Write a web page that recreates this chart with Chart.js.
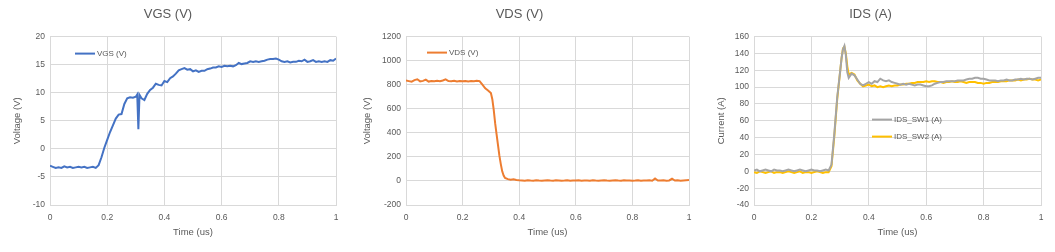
<!DOCTYPE html>
<html lang="en">
<head>
    <meta charset="UTF-8">
    <title>Switching waveforms</title>
    <style>
        body {
            margin: 0;
            background: #fff;
            width: 1055px;
            height: 252px;
            overflow: hidden;
            position: relative;
        }
        canvas {
            position: absolute;
            top: 0;
        }
    </style>
    <script src="https://cdn.jsdelivr.net/npm/chart.js"></script>
</head>
<body>
    <canvas id="vgsChart" width="345" height="252" style="left:0px"></canvas>
    <canvas id="vdsChart" width="347" height="252" style="left:350px"></canvas>
    <canvas id="idsChart" width="355" height="252" style="left:700px"></canvas>

    <script>
        // VGS trace (time in us, volts)
        const vgsTime = [0, 0.01, 0.02, 0.03, 0.04, 0.05, 0.06, 0.07, 0.08, 0.09,
            0.10, 0.11, 0.12, 0.13, 0.14, 0.15, 0.16, 0.17, 0.18, 0.19,
            0.20, 0.21, 0.22, 0.23, 0.24, 0.25, 0.26, 0.27, 0.28, 0.29,
            0.30, 0.305, 0.309, 0.313,
            0.32, 0.33, 0.34, 0.35, 0.36, 0.37, 0.38, 0.39,
            0.40, 0.41, 0.42, 0.43, 0.44, 0.45, 0.46, 0.47, 0.48, 0.49,
            0.50, 0.51, 0.52, 0.53, 0.54, 0.55, 0.56, 0.57, 0.58, 0.59,
            0.60, 0.61, 0.62, 0.63, 0.64, 0.65, 0.66, 0.67, 0.68, 0.69,
            0.70, 0.71, 0.72, 0.73, 0.74, 0.75, 0.76, 0.77, 0.78, 0.79,
            0.80, 0.81, 0.82, 0.83, 0.84, 0.85, 0.86, 0.87, 0.88, 0.89,
            0.90, 0.91, 0.92, 0.93, 0.94, 0.95, 0.96, 0.97, 0.98, 0.99, 1.00];
        const vgsValues = [-3.0, -3.2, -3.4, -3.3, -3.4, -3.1, -3.3, -3.2, -3.4, -3.3,
            -3.2, -3.3, -3.2, -3.4, -3.3, -3.2, -3.4, -2.9, -1.5, 0.2,
            1.6, 3.0, 4.2, 5.4, 6.1, 6.2, 8.0, 9.0, 9.2, 9.1,
            9.3, 9.7, 3.5, 9.6,
            9.0, 8.7, 9.8, 10.5, 10.9, 11.6, 11.4, 11.3,
            12.1, 11.9, 12.6, 12.9, 13.4, 14.0, 14.2, 14.4, 14.1, 14.2,
            13.8, 14.0, 13.7, 13.9, 13.9, 14.2, 14.3, 14.5, 14.5, 14.7,
            14.6, 14.8, 14.7, 14.8, 14.7, 14.9, 15.3, 15.1, 15.2, 15.3,
            15.6, 15.5, 15.6, 15.5, 15.6, 15.7, 15.9, 16.0, 16.0, 16.1,
            15.9, 15.6, 15.5, 15.6, 15.4, 15.5, 15.5, 15.7, 15.6, 15.9,
            15.5, 15.6, 15.8, 15.5, 15.6, 15.5, 15.6, 15.5, 15.8, 15.7, 16.1];

        // VDS trace
        const vdsTime = [0, 0.01, 0.02, 0.03, 0.04, 0.05, 0.06, 0.07, 0.08, 0.09,
            0.10, 0.11, 0.12, 0.13, 0.14, 0.15, 0.16, 0.17, 0.18, 0.19,
            0.20, 0.21, 0.22, 0.23, 0.24, 0.25, 0.26, 0.27, 0.28, 0.29,
            0.30, 0.305, 0.31, 0.315, 0.32, 0.325, 0.33, 0.335, 0.34, 0.345, 0.35,
            0.36, 0.37, 0.38, 0.39, 0.40,
            0.41, 0.42, 0.43, 0.44, 0.45, 0.46, 0.47, 0.48, 0.49, 0.50,
            0.51, 0.52, 0.53, 0.54, 0.55, 0.56, 0.57, 0.58, 0.59, 0.60,
            0.61, 0.62, 0.63, 0.64, 0.65, 0.66, 0.67, 0.68, 0.69, 0.70,
            0.71, 0.72, 0.73, 0.74, 0.75, 0.76, 0.77, 0.78, 0.79, 0.80,
            0.81, 0.82, 0.83, 0.84, 0.85, 0.86, 0.87, 0.88, 0.89, 0.90,
            0.91, 0.92, 0.93, 0.94, 0.95, 0.96, 0.97, 0.98, 0.99, 1.00];
        const vdsValues = [835, 830, 825, 838, 845, 828, 832, 842, 826, 830,
            828, 832, 829, 835, 845, 830, 828, 832, 827, 830,
            829, 831, 827, 830, 828, 832, 830, 800, 770, 752,
            730, 680, 590, 480, 390, 300, 210, 140, 80, 45, 25,
            15, 10, 14, 8, 5,
            4, 2, 6, 3, 1, 5, 3, 2, 4, 6,
            3, 2, 5, 4, 1, 3, 6, 2, 4, 3,
            5, 2, 3, 4, 2, 6, 3, 1, 4, 5,
            3, 2, 4, 6, 3, 2, 5, 3, 4, 2,
            3, 5, 2, 4, 3, 6, 2, 20, 4, 3,
            5, 2, 4, 18, 3, 5, 2, 4, 6, 7];

        // IDS traces for both switches
        const idsTime = [0, 0.01, 0.02, 0.03, 0.04, 0.05, 0.06, 0.07, 0.08, 0.09,
            0.10, 0.11, 0.12, 0.13, 0.14, 0.15, 0.16, 0.17, 0.18, 0.19,
            0.20, 0.21, 0.22, 0.23, 0.24, 0.25, 0.26, 0.27, 0.28, 0.29,
            0.30, 0.305, 0.31, 0.315, 0.32, 0.325, 0.33,
            0.34, 0.35, 0.36, 0.37, 0.38, 0.39,
            0.40, 0.41, 0.42, 0.43, 0.44, 0.45, 0.46, 0.47, 0.48, 0.49,
            0.50, 0.51, 0.52, 0.53, 0.54, 0.55, 0.56, 0.57, 0.58, 0.59,
            0.60, 0.61, 0.62, 0.63, 0.64, 0.65, 0.66, 0.67, 0.68, 0.69,
            0.70, 0.71, 0.72, 0.73, 0.74, 0.75, 0.76, 0.77, 0.78, 0.79,
            0.80, 0.81, 0.82, 0.83, 0.84, 0.85, 0.86, 0.87, 0.88, 0.89,
            0.90, 0.91, 0.92, 0.93, 0.94, 0.95, 0.96, 0.97, 0.98, 0.99, 1.00];
        const idsSw1 = [1, 2, 0, 1, 2, 1, 0, 2, 1, 1,
            0, 1, 2, 1, 0, 1, 2, 1, 0, 1,
            2, 1, 1, 0, 1, 2, 1, 8, 45, 88,
            118, 134, 145, 149, 138, 118, 111,
            116, 114, 109, 104, 102, 104,
            106, 104, 107, 106, 110, 108, 107, 108, 106, 105,
            104, 103, 104, 103, 104, 103, 102, 103, 103, 102,
            101, 101, 102, 104, 105, 106, 106, 107, 107, 107,
            107, 108, 108, 108, 109, 110, 110, 111, 111, 110,
            110, 109, 108, 108, 108, 107, 108, 108, 109, 108,
            108, 109, 109, 110, 109, 110, 110, 109, 110, 111, 111];
        const idsSw2 = [-1, -2, 0, -1, -2, -1, 0, -2, -1, -1,
            -2, -1, 0, -1, -2, -1, 0, -2, -1, -1,
            -2, -1, 0, -1, -2, -1, -1, 6, 42, 86,
            118, 134, 146, 148, 140, 125, 115,
            117, 115, 108, 104, 101, 102,
            103, 101, 102, 100, 101, 100, 101, 102, 101, 102,
            102, 103, 103, 104, 104, 105, 105, 106, 106, 106,
            107, 106, 107, 107, 106, 106, 105, 106, 106, 107,
            106, 106, 107, 106, 105, 106, 106, 106, 105, 105,
            104, 105, 105, 106, 106, 106, 107, 107, 107, 108,
            108, 108, 109, 108, 109, 109, 110, 109, 109, 108, 109];

        const timeTicks = [0, 0.2, 0.4, 0.6, 0.8, 1];

        const FONT = "'Liberation Sans', Arial, sans-serif";
        const TEXT = '#595959';
        const GRID = '#d9d9d9';

        function toPoints(xs, ys) {
            return xs.map((x, i) => ({ x: x, y: ys[i] }));
        }

        // legend drawn inside the plot area, like the spreadsheet layout
        const innerLegend = {
            id: 'innerLegend',
            afterDraw(chart, args, opts) {
                const ctx = chart.ctx;
                const area = chart.chartArea;
                ctx.save();
                ctx.font = '8px ' + FONT;
                ctx.textBaseline = 'middle';
                chart.data.datasets.forEach((ds, i) => {
                    const x = area.left + opts.x;
                    const y = area.top + opts.y + i * opts.dy;
                    ctx.strokeStyle = ds.borderColor;
                    ctx.lineWidth = 2;
                    ctx.beginPath();
                    ctx.moveTo(x, y);
                    ctx.lineTo(x + 20, y);
                    ctx.stroke();
                    ctx.fillStyle = TEXT;
                    ctx.fillText(ds.label, x + 22, y);
                });
                ctx.restore();
            }
        };

        function makeChart(id, title, yTitle, yRange, datasets, box) {
            new Chart(document.getElementById(id), {
                type: 'line',
                data: { datasets: datasets },
                options: {
                    responsive: false,
                    animation: false,
                    layout: { padding: { left: 0, right: box.right, top: 0, bottom: 0 } },
                    elements: { point: { radius: 0 }, line: { borderWidth: 2, tension: 0 } },
                    plugins: {
                        legend: { display: false },
                        tooltip: { enabled: false },
                        title: {
                            display: true,
                            text: title,
                            color: TEXT,
                            font: { family: FONT, size: 13, weight: 'normal' },
                            padding: { top: 7, bottom: 14 }
                        },
                        innerLegend: box.legend
                    },
                    scales: {
                        x: {
                            type: 'linear',
                            min: 0,
                            max: 1,
                            afterFit: s => { s.height = 47; },
                            afterBuildTicks: s => { s.ticks = timeTicks.map(v => ({ value: v })); },
                            grid: { color: GRID, drawTicks: true, tickLength: 5, tickColor: 'rgba(0,0,0,0)' },
                            border: { color: GRID },
                            ticks: {
                                color: TEXT,
                                padding: 3,
                                font: { family: FONT, size: 8.5 },
                                callback: v => String(v)
                            },
                            title: {
                                display: true,
                                text: 'Time (us)',
                                color: TEXT,
                                font: { family: FONT, size: 9.5 },
                                padding: { top: 0, bottom: 14 }
                            }
                        },
                        y: {
                            min: yRange[0],
                            max: yRange[1],
                            afterFit: s => { s.width = box.axis; },
                            grid: { color: GRID, drawTicks: false },
                            border: { color: GRID },
                            ticks: {
                                color: TEXT,
                                padding: 5,
                                stepSize: yRange[2],
                                font: { family: FONT, size: 8.5 },
                                callback: v => String(v)
                            },
                            title: {
                                display: true,
                                text: yTitle,
                                color: TEXT,
                                font: { family: FONT, size: 9.5 },
                                padding: { top: box.titleX, bottom: 0 }
                            }
                        }
                    }
                },
                plugins: [innerLegend]
            });
        }

        makeChart('vgsChart', 'VGS (V)', 'Voltage (V)', [-10, 20, 5], [{
            label: 'VGS (V)',
            data: toPoints(vgsTime, vgsValues),
            borderColor: '#4472c4'
        }], { axis: 50, right: 9, titleX: 12, legend: { x: 25, y: 17, dy: 0 } });

        makeChart('vdsChart', 'VDS (V)', 'Voltage (V)', [-200, 1200, 200], [{
            label: 'VDS (V)',
            data: toPoints(vdsTime, vdsValues),
            borderColor: '#ed7d31'
        }], { axis: 56, right: 8, titleX: 12, legend: { x: 21, y: 16, dy: 0 } });

        makeChart('idsChart', 'IDS (A)', 'Current (A)', [-40, 160, 20], [{
            label: 'IDS_SW1 (A)',
            data: toPoints(idsTime, idsSw1),
            borderColor: '#a5a5a5'
        }, {
            label: 'IDS_SW2 (A)',
            data: toPoints(idsTime, idsSw2),
            borderColor: '#ffc000'
        }], { axis: 54, right: 14, titleX: 16, legend: { x: 118, y: 83, dy: 17 } });
    </script>
</body>
</html>
